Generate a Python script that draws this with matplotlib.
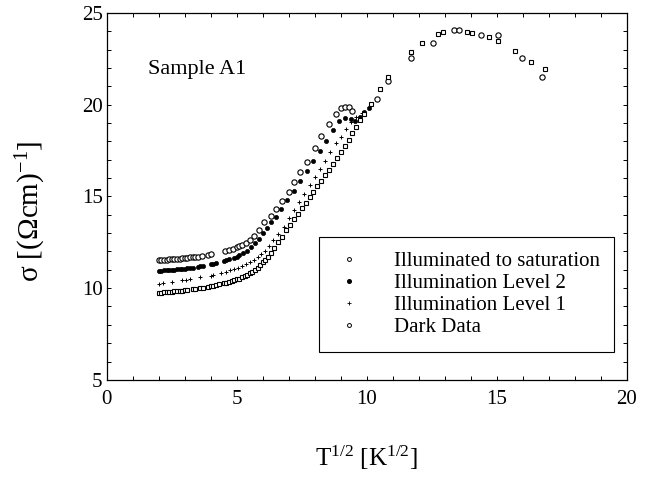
import matplotlib
matplotlib.use("Agg")
import matplotlib.pyplot as plt
from matplotlib.ticker import MultipleLocator
from matplotlib.lines import Line2D

plt.rcParams['font.family'] = ['Liberation Serif', 'DejaVu Serif']
plt.rcParams['mathtext.fontset'] = 'custom'
plt.rcParams['mathtext.rm'] = 'Liberation Serif'
plt.rcParams['mathtext.it'] = 'Liberation Serif:italic'

# ---- data ----
sat_x = [2.0, 2.1, 2.2, 2.3, 2.4, 2.5, 2.6, 2.7, 2.8, 2.9, 3.0, 3.1, 3.2, 3.3, 3.4, 3.5,
         3.65, 3.9, 4.0, 4.55, 4.7, 4.85, 5.0, 5.1, 5.2, 5.35, 5.5, 5.65, 5.85, 6.05,
         6.3, 6.5, 6.75, 7.0, 7.2, 7.45, 7.7, 8.0, 8.25, 8.55, 8.8, 9.0, 9.15, 9.3, 9.45,
         10.40, 10.82, 11.72, 12.53, 13.36, 13.55, 14.38, 15.05, 15.99, 16.76]
sat_y = [11.52, 11.53, 11.54, 11.55, 11.56, 11.57, 11.58, 11.60, 11.61, 11.62, 11.64, 11.65,
         11.67, 11.68, 11.70, 11.72, 11.75, 11.82, 11.85, 12.02, 12.08, 12.15, 12.22, 12.28,
         12.35, 12.48, 12.65, 12.85, 13.15, 13.60, 13.95, 14.30, 14.75, 15.25, 15.80, 16.35,
         16.90, 17.65, 18.30, 18.95, 19.50, 19.80, 19.85, 19.85, 19.65,
         20.30, 21.29, 22.53, 23.35, 24.07, 24.07, 23.80, 23.80, 22.56, 21.53]

l2_x = [2.0, 2.1, 2.2, 2.3, 2.4, 2.5, 2.6, 2.7, 2.8, 2.9, 3.0, 3.1, 3.2, 3.3, 3.5, 3.6, 3.7,
        4.0, 4.1, 4.2, 4.5, 4.6, 4.7, 4.9, 5.0, 5.1, 5.25, 5.4, 5.55, 5.7, 5.85, 6.0, 6.15,
        6.3, 6.5, 6.7, 6.95, 7.2, 7.45, 7.7, 7.95, 8.2, 8.45, 8.7, 8.95, 9.15, 9.4, 9.55,
        9.75, 9.9, 10.1]
l2_y = [10.95, 10.96, 10.97, 10.98, 10.99, 11.00, 11.01, 11.02, 11.03, 11.05, 11.06, 11.08,
        11.10, 11.12, 11.16, 11.18, 11.20, 11.30, 11.33, 11.36, 11.48, 11.52, 11.56, 11.66,
        11.72, 11.80, 11.90, 12.05, 12.25, 12.45, 12.70, 13.00, 13.30, 13.60, 13.90, 14.30,
        14.80, 15.30, 15.85, 16.40, 16.95, 17.45, 18.00, 18.60, 19.10, 19.30, 19.20, 19.10,
        19.35, 19.60, 19.80]

l1_x = [2.0, 2.15, 2.5, 2.9, 3.05, 3.2, 3.6, 4.0, 4.1, 4.4, 4.6, 4.75, 4.9, 5.05, 5.2, 5.35,
        5.5, 5.65, 5.8, 5.95, 6.1, 6.25, 6.4, 6.6, 6.8, 7.0, 7.2, 7.4, 7.6, 7.8, 8.0, 8.2,
        8.4, 8.6, 8.8, 9.0, 9.2, 9.4, 9.6, 9.8]
l1_y = [10.25, 10.28, 10.35, 10.42, 10.45, 10.48, 10.58, 10.68, 10.72, 10.82, 10.90, 10.97,
        11.05, 11.12, 11.20, 11.30, 11.42, 11.55, 11.70, 11.88, 12.05, 12.30, 12.60, 12.95,
        13.35, 13.80, 14.25, 14.70, 15.15, 15.60, 16.05, 16.50, 16.95, 17.40, 17.90, 18.25,
        18.70, 19.05, 19.35, 19.55]

dk_x = [2.0, 2.1, 2.2, 2.3, 2.4, 2.5, 2.6, 2.7, 2.8, 2.9, 3.0, 3.1, 3.3, 3.4, 3.6, 3.7, 3.9,
        4.0, 4.1, 4.2, 4.3, 4.5, 4.6, 4.7, 4.8, 4.9, 5.0, 5.1, 5.2, 5.3, 5.4, 5.5, 5.6, 5.7,
        5.8, 5.9, 6.0, 6.1, 6.2, 6.3, 6.45, 6.6, 6.75, 6.9, 7.05, 7.2, 7.35, 7.5, 7.65, 7.8,
        7.95, 8.1, 8.25, 8.4, 8.55, 8.7, 8.85, 9.0, 9.15, 9.3, 9.45, 9.6, 9.75, 9.9,
        10.15, 10.50, 10.82, 11.72, 12.14, 12.74, 12.93, 13.87, 14.03, 14.70, 15.05, 15.69,
        16.31, 16.85]
dk_y = [9.75, 9.76, 9.77, 9.78, 9.80, 9.81, 9.82, 9.84, 9.85, 9.87, 9.88, 9.90, 9.94, 9.96,
        10.00, 10.03, 10.08, 10.10, 10.13, 10.16, 10.20, 10.26, 10.30, 10.34, 10.38, 10.42,
        10.47, 10.52, 10.58, 10.65, 10.72, 10.80, 10.90, 11.00, 11.10, 11.25, 11.40, 11.55,
        11.72, 11.90, 12.20, 12.50, 12.80, 13.15, 13.45, 13.75, 14.05, 14.35, 14.65, 14.95,
        15.25, 15.55, 15.85, 16.15, 16.45, 16.75, 17.10, 17.40, 17.75, 18.10, 18.45, 18.80,
        19.15, 19.50, 20.04, 20.84, 21.53, 22.89, 23.35, 23.84, 23.95, 23.98, 23.89, 23.71,
        23.47, 22.95, 22.31, 21.93]

labels = ["Illuminated to saturation", "Illumination Level 2",
          "Illumination Level 1", "Dark Data"]

assert len(sat_x) == len(sat_y)
assert len(l2_x) == len(l2_y)
assert len(l1_x) == len(l1_y)
assert len(dk_x) == len(dk_y)

fig = plt.figure(figsize=(6.59, 4.79), dpi=100)
ax = fig.add_axes([0.162, 0.207, 0.789, 0.766])

ax.plot(sat_x, sat_y, linestyle='none', marker='o', ms=3.8, mfc='white', mec='black', mew=0.8)
ax.plot(l2_x, l2_y, linestyle='none', marker='o', ms=3.0, mfc='black', mec='black', mew=0.5)
ax.plot(l1_x, l1_y, linestyle='none', marker='+', ms=3.5, color='black', mew=0.7)
ax.plot(dk_x, dk_y, linestyle='none', marker='s', ms=3.4, mfc='white', mec='black', mew=0.8)

ax.set_xlim(0, 20)
ax.set_ylim(5, 25)
ax.xaxis.set_major_locator(MultipleLocator(5))
ax.xaxis.set_minor_locator(MultipleLocator(1))
ax.yaxis.set_major_locator(MultipleLocator(5))
ax.yaxis.set_minor_locator(MultipleLocator(1))
ax.tick_params(which='both', direction='in', top=True, right=True, length=3, width=0.7,
               labelsize=15)
ax.tick_params(axis='x', pad=7)
ax.tick_params(axis='y', pad=3)
for s in ax.spines.values():
    s.set_linewidth(0.9)

ax.set_xlabel(r'T$^{1/2}$ [K$^{1/2}$]', fontsize=18, labelpad=25)
ax.set_ylabel(r'σ [(Ωcm)$^{-1}$]', fontsize=21)
ax.yaxis.set_label_coords(-0.113, 0.46)

ax.text(0.079, 0.845, 'Sample A1', transform=ax.transAxes, fontsize=16,
        ha='left', va='center')

handles = [
    Line2D([], [], linestyle='none', marker='o', ms=2.8, mfc='white', mec='black', mew=0.7),
    Line2D([], [], linestyle='none', marker='o', ms=2.6, mfc='black', mec='black'),
    Line2D([], [], linestyle='none', marker='+', ms=2.5, color='black', mew=0.6),
    Line2D([], [], linestyle='none', marker='o', ms=2.8, mfc='white', mec='black', mew=0.7),
]
leg = ax.legend(handles, labels, loc='upper left', bbox_to_anchor=(0.408, 0.0, 0.567, 0.39),
                mode='expand', fontsize=15, frameon=True, fancybox=False, edgecolor='black',
                framealpha=1, labelspacing=0.12, handlelength=1.5, handletextpad=1.4,
                borderpad=0.7, borderaxespad=0)
leg.get_frame().set_linewidth(0.8)

fig.savefig('out.png', dpi=100)
